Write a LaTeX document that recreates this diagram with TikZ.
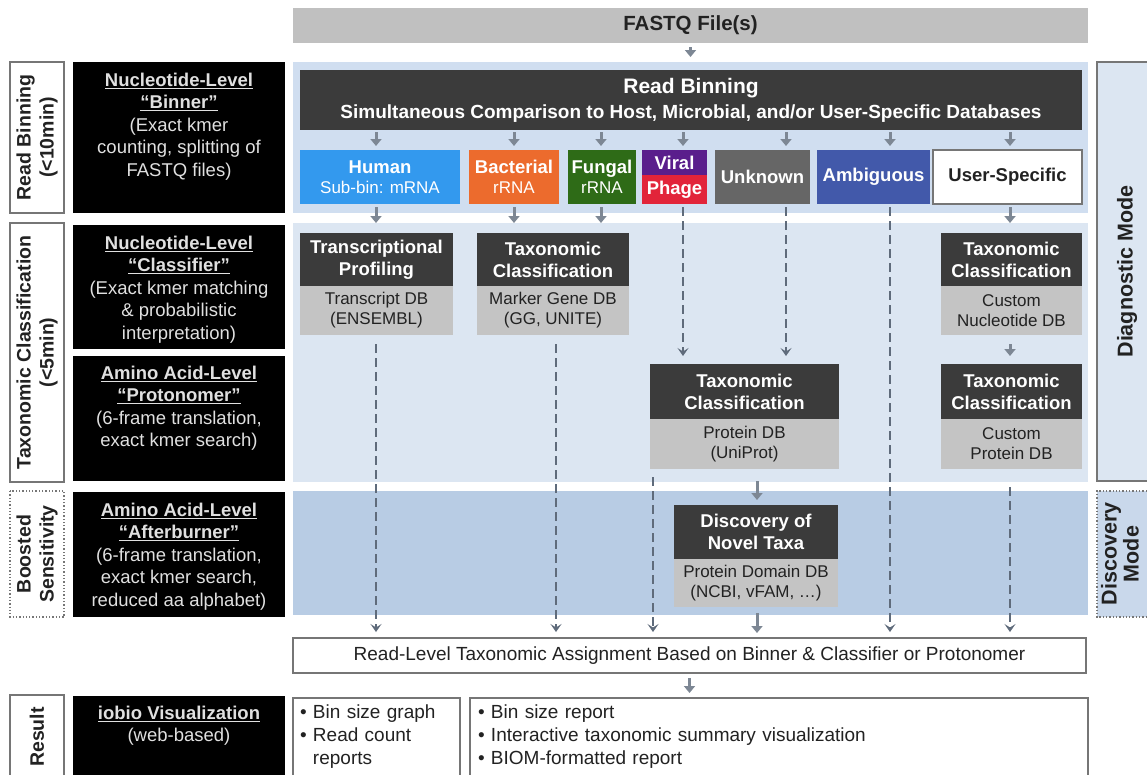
\documentclass[tikz,border=0pt]{standalone}
\usepackage{fontspec}
\setmainfont{Liberation Sans}
\usetikzlibrary{arrows.meta}

\definecolor{darkbox}{HTML}{3B3B3B}
\definecolor{dbgray}{HTML}{C4C4C4}
\definecolor{fastqgray}{HTML}{C0C0C0}
\definecolor{panelA}{HTML}{D0DEF0}
\definecolor{panelB}{HTML}{DCE6F2}
\definecolor{panelC}{HTML}{B8CCE4}
\definecolor{modeC}{HTML}{C9D8EB}
\definecolor{arrowgray}{HTML}{7D8794}
\definecolor{dashgray}{HTML}{5F6B7B}
\definecolor{humanblue}{HTML}{3399EE}
\definecolor{bactorange}{HTML}{EC6B2D}
\definecolor{fungalgreen}{HTML}{2E6B17}
\definecolor{viralpurple}{HTML}{5A1E8C}
\definecolor{phagered}{HTML}{E2243A}
\definecolor{unkgray}{HTML}{666666}
\definecolor{ambblue}{HTML}{4259AA}
\definecolor{framegray}{HTML}{767676}
\definecolor{inktext}{HTML}{222222}

% smaller, regular second line inside the bin boxes
\newcommand{\binsub}{\fontsize{17}{20}\selectfont\mdseries}

\begin{document}
\begin{tikzpicture}[x=1pt,y=-1pt,
  every node/.style={inner sep=0pt, outer sep=0pt},
  tl/.style={anchor=north west, align=center},
  panel/.style={tl, minimum width=795},
  darktitle/.style={tl, fill=darkbox, text=white, font=\fontsize{18.5}{22}\selectfont\bfseries},
  dbbox/.style={anchor=north, align=center, fill=dbgray, text=inktext, font=\fontsize{17}{20}\selectfont},
  bin/.style={tl, minimum height=54, text=white, font=\fontsize{18.5}{20}\selectfont\bfseries},
  leftbox/.style={tl, fill=black, minimum width=212},
  lefttext/.style={anchor=north, align=center, text=white!88!black, font=\fontsize{18.5}{22.5}\selectfont},
  sidebox/.style={rotate=90, align=center, draw=framegray, line width=1.3pt, fill=white, text=inktext,
                  font=\fontsize{19.5}{23}\selectfont\bfseries},
  modebox/.style={rotate=90, align=center, draw=framegray, line width=1.3pt, text=inktext,
                  font=\fontsize{21.5}{22}\selectfont\bfseries},
  outbox/.style={tl, draw=framegray, line width=1.3pt, fill=white, text=inktext,
                 font=\fontsize{19}{23}\selectfont},
  feed/.style={draw=arrowgray, line width=3pt, -{Triangle[length=7pt,width=11pt]}},
  pass/.style={draw=dashgray, line width=2.4pt, dash pattern=on 9pt off 5pt,
               -{Stealth[length=8pt,width=11pt,inset=3.5pt]}},
]
\useasboundingbox (0,0) rectangle (1147,774);
\fill[white] (0,0) rectangle (1147,774);

% ---------- input ----------
\node[tl, fill=fastqgray, minimum width=795, minimum height=35, text=inktext,
      font=\fontsize{20.5}{24}\selectfont\bfseries] (fastq) at (293,8) {FASTQ File(s)};

% ---------- stage panels ----------
\node[panel, fill=panelA, minimum height=151] (pA) at (293,62) {};
\node[panel, fill=panelB, minimum height=259] (pB) at (293,223) {};
\node[panel, fill=panelC, minimum height=124] (pC) at (293,491) {};

% ---------- read binning ----------
\node[tl, fill=darkbox, text=white, minimum width=782, minimum height=60,
      font=\fontsize{19}{25}\selectfont\bfseries] (rb) at (300,70)
  {{\fontsize{21}{25}\selectfont Read Binning}\\Simultaneous Comparison to Host, Microbial, and/or User-Specific Databases};

\node[bin, fill=humanblue, minimum width=160] (human) at (300,150) {Human\\{\binsub Sub-bin: mRNA}};
\node[bin, fill=bactorange, minimum width=90] (bact) at (469,150) {Bacterial\\{\binsub rRNA}};
\node[bin, fill=fungalgreen, minimum width=68] (fungal) at (568,150) {Fungal\\{\binsub rRNA}};
\node[bin, fill=viralpurple, minimum width=65, minimum height=25] (viral) at (642,150) {Viral};
\node[bin, fill=phagered, minimum width=65, minimum height=29] (phage) at (642,175) {Phage};
\node[bin, fill=unkgray, minimum width=95] (unk) at (715,150) {Unknown};
\node[bin, fill=ambblue, minimum width=113] (amb) at (817,150) {Ambiguous};
\node[bin, fill=white, draw=framegray, line width=1.3pt, text=inktext, minimum width=149] (user) at (933,150) {User-Specific};

% ---------- classification ----------
\node[darktitle, minimum width=153, minimum height=53] (tp) at (300,233) {Transcriptional\\Profiling};
\node[dbbox, minimum width=153, minimum height=49] (tpdb) at (tp.south) {Transcript DB\\(ENSEMBL)};
\node[darktitle, minimum width=152, minimum height=53] (mg) at (477,233) {Taxonomic\\Classification};
\node[dbbox, minimum width=152, minimum height=49] (mgdb) at (mg.south) {Marker Gene DB\\(GG, UNITE)};
\node[darktitle, minimum width=141, minimum height=53] (cn) at (941,233) {Taxonomic\\Classification};
\node[dbbox, minimum width=141, minimum height=49] (cndb) at (cn.south) {Custom\\Nucleotide DB};
\node[darktitle, minimum width=189, minimum height=55] (pr) at (650,364) {Taxonomic\\Classification};
\node[dbbox, minimum width=189, minimum height=50] (prdb) at (pr.south) {Protein DB\\(UniProt)};
\node[darktitle, minimum width=141, minimum height=55] (cp) at (941,364) {Taxonomic\\Classification};
\node[dbbox, minimum width=141, minimum height=50] (cpdb) at (cp.south) {Custom\\Protein DB};

% ---------- discovery ----------
\node[darktitle, minimum width=164, minimum height=54] (disc) at (674,505) {Discovery of\\Novel Taxa};
\node[dbbox, minimum width=164, minimum height=48] (discdb) at (disc.south) {Protein Domain DB\\(NCBI, vFAM, …)};

% ---------- assignment and results ----------
\node[outbox, minimum width=793, minimum height=35] (rl) at (293,638)
  {Read-Level Taxonomic Assignment Based on Binner \& Classifier or Protonomer};
\node[outbox, minimum width=167, minimum height=78, text width=153, align=left] (res1) at (293,698)
  {•~Bin size graph\\•~Read count\\\hphantom{•~}reports};
\node[outbox, minimum width=618, minimum height=78, text width=602, align=left] (res2) at (470,698)
  {•~Bin size report\\•~Interactive taxonomic summary visualization\\•~BIOM-formatted report};

% ---------- left column: stages and tools ----------
\node[sidebox, minimum width=151, minimum height=54] (lab1) at (37,137.5) {Read Binning\\(<10min)};
\node[sidebox, minimum width=259, minimum height=54] (lab2) at (37,352.5) {Taxonomic Classification\\(<5min)};
\node[sidebox, dotted, minimum width=126, minimum height=54] (lab3) at (37,554) {Boosted\\Sensitivity};
\node[sidebox, minimum width=84, minimum height=54] (lab4) at (37,737) {Result};

\node[leftbox, minimum height=151] (lb1) at (73,62) {};
\node[lefttext] (lt1) at ([yshift=-11pt]lb1.north)
  {\bfseries\underline{Nucleotide-Level}\\\bfseries\underline{“Binner”}\\(Exact kmer\\counting, splitting of\\FASTQ files)};
\node[leftbox, minimum height=124] (lb2) at (73,225) {};
\node[lefttext] (lt2) at ([yshift=-11pt]lb2.north)
  {\bfseries\underline{Nucleotide-Level}\\\bfseries\underline{“Classifier”}\\(Exact kmer matching\\\& probabilistic\\interpretation)};
\node[leftbox, minimum height=125] (lb3) at (73,356) {};
\node[lefttext] (lt3) at ([yshift=-10pt]lb3.north)
  {\bfseries\underline{Amino Acid-Level}\\\bfseries\underline{“Protonomer”}\\(6-frame translation,\\exact kmer search)};
\node[leftbox, minimum height=125] (lb4) at (73,492) {};
\node[lefttext] (lt4) at ([yshift=-11pt]lb4.north)
  {\bfseries\underline{Amino Acid-Level}\\\bfseries\underline{“Afterburner”}\\(6-frame translation,\\exact kmer search,\\reduced aa alphabet)};
\node[leftbox, minimum height=90] (lb5) at (73,696) {};
\node[lefttext] (lt5) at ([yshift=-10pt]lb5.north)
  {\bfseries\underline{iobio Visualization}\\(web-based)};

% ---------- right column: modes (the frames run past the right edge) ----------
\node[modebox, fill=panelB, minimum width=419, minimum height=60] (diag) at (1127,271.5) {Diagnostic Mode};
\path[draw=framegray, line width=1.3pt, dotted, fill=modeC] (1160,491) -- (1097,491) -- (1097,617) -- (1160,617);
\node[rotate=90, align=center, text=inktext, font=\fontsize{21.5}{22}\selectfont\bfseries] (discmode) at (1120,554) {Discovery\\Mode};

% ---------- lane positions ----------
\coordinate (xHum) at (376,0);
\coordinate (xBac) at (514,0);
\coordinate (xFun) at (601,0);
\coordinate (xVir) at (683,0);
\coordinate (xUnk) at (786,0);
\coordinate (xAmb) at (890,0);
\coordinate (xUsr) at (1010,0);
\coordinate (xMg) at (556,0);
\coordinate (xPrL) at (653,0);
\coordinate (xDisc) at (757,0);

% ---------- solid feed arrows ----------
\draw[feed, shorten <=4pt, shorten >=5pt] (fastq.south) -- (fastq.south |- pA.north);
\foreach \c/\b in {xHum/human, xBac/bact, xFun/fungal, xVir/viral, xUnk/unk, xAmb/amb, xUsr/user}
  \draw[feed, shorten <=2pt, shorten >=4pt] (\c |- rb.south) -- (\c |- \b.north);
\draw[feed, shorten <=3pt, shorten >=10pt] (xHum |- human.south) -- (xHum |- tp.north);
\draw[feed, shorten <=3pt, shorten >=10pt] (xBac |- bact.south) -- (xBac |- mg.north);
\draw[feed, shorten <=3pt, shorten >=10pt] (xFun |- fungal.south) -- (xFun |- mg.north);
\draw[feed, shorten <=3pt, shorten >=10pt] (xUsr |- user.south) -- (xUsr |- cn.north);
\draw[feed, shorten <=9pt, shorten >=8pt] (xUsr |- cndb.south) -- (xUsr |- cp.north);
\draw[feed, shorten <=12pt, shorten >=5pt] (xDisc |- prdb.south) -- (xDisc |- disc.north);
\draw[feed, shorten <=6pt, shorten >=5pt] (xDisc |- discdb.south) -- (xDisc |- rl.north);
\draw[feed, shorten <=5pt, shorten >=5pt] (rl.south) -- (rl.south |- res2.north);

% ---------- dashed pass-through connectors ----------
\draw[pass, shorten <=3pt, shorten >=8pt] (xVir |- phage.south) -- (xVir |- pr.north);
\draw[pass, shorten <=3pt, shorten >=8pt] (xUnk |- unk.south) -- (xUnk |- pr.north);
\draw[pass, shorten <=3pt, shorten >=6pt] (xAmb |- amb.south) -- (xAmb |- rl.north);
\draw[pass, shorten <=9pt, shorten >=6pt] (xHum |- tpdb.south) -- (xHum |- rl.north);
\draw[pass, shorten <=9pt, shorten >=6pt] (xMg |- mgdb.south) -- (xMg |- rl.north);
\draw[pass, shorten <=8pt, shorten >=6pt] (xPrL |- prdb.south) -- (xPrL |- rl.north);
\draw[pass, shorten <=18pt, shorten >=6pt] (xUsr |- cpdb.south) -- (xUsr |- rl.north);
\end{tikzpicture}
\end{document}
